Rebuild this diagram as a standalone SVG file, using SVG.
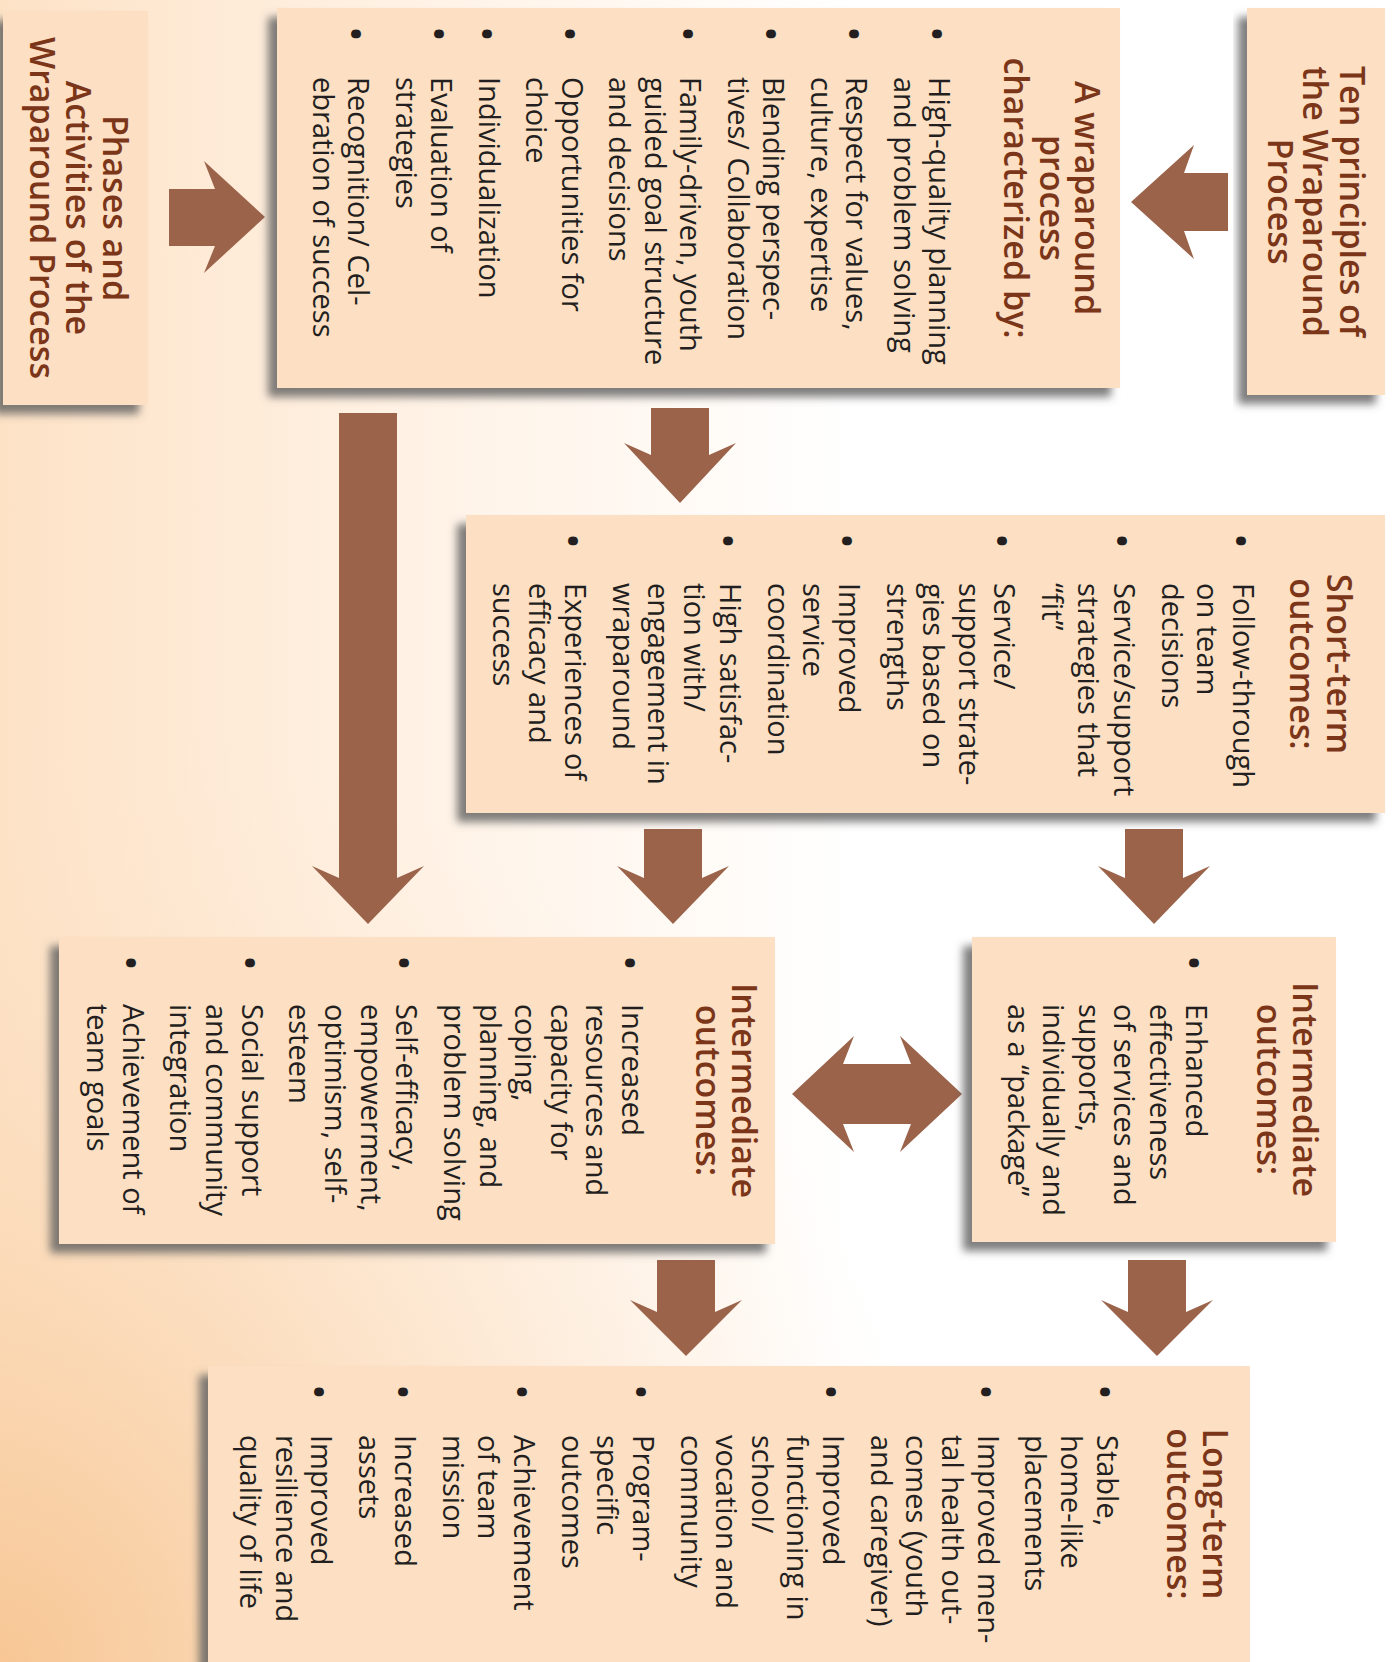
<svg xmlns="http://www.w3.org/2000/svg" width="1398" height="1662" viewBox="0 0 1398 1662">
<defs>
<linearGradient id="bg" gradientUnits="userSpaceOnUse" x1="0" y1="0" x2="850" y2="0">
<stop offset="0" stop-color="#fde2c6"/>
<stop offset="0.45" stop-color="#fff1e3"/>
<stop offset="1" stop-color="#ffffff"/>
</linearGradient>
<radialGradient id="bg2" gradientUnits="userSpaceOnUse" cx="0" cy="1662" r="950">
<stop offset="0" stop-color="#f7c592" stop-opacity="0.95"/>
<stop offset="0.5" stop-color="#fad7b2" stop-opacity="0.5"/>
<stop offset="1" stop-color="#fde6cf" stop-opacity="0"/>
</radialGradient>
<filter id="sh" x="-10%" y="-10%" width="125%" height="125%">
<feDropShadow dx="-9" dy="9" stdDeviation="4" flood-color="#5e5e5e" flood-opacity="0.8"/>
</filter>
<style>
.box{fill:#fde0c4;filter:url(#sh)}
.ttl{font-family:"Open Sans","Noto Sans","DejaVu Sans",sans-serif;font-weight:600;font-size:34px;fill:#7b3519;text-anchor:middle}
.bd{font-family:"Open Sans","Noto Sans","DejaVu Sans",sans-serif;font-size:29px;fill:#231f20}
.bl{font-size:42px}
.arr{fill:#9b634a}
</style>
</defs>
<rect x="0" y="0" width="1398" height="1662" fill="url(#bg)"/>
<rect x="0" y="0" width="1398" height="1662" fill="url(#bg2)"/>

<g id="connectors">
<path class="arr" d="M169,189 H215 L204,161 L265,217 L204,273 L215,246 H169 Z"/>
<path class="arr" d="M1228,173 H1184 L1194,145 L1131,202 L1194,259 L1184,231 H1228 Z"/>
<path class="arr" d="M651,408 H709 V455 L736,443 L680,503 L624,443 L651,455 Z"/>
<path class="arr" d="M339,413 H397 V878 L424,866 L368,924 L312,866 L339,878 Z"/>
<path class="arr" d="M644,829 H702 V878 L729,866 L673,924 L617,866 L644,878 Z"/>
<path class="arr" d="M1125,829 H1183 V878 L1210,866 L1154,924 L1098,866 L1125,878 Z"/>
<path class="arr" d="M792,1094 L854,1036 L843,1064 H911 L900,1036 L962,1094 L900,1152 L911,1124 H843 L854,1152 Z"/>
<path class="arr" d="M657,1260 H715 V1312 L742,1300 L686,1356 L630,1300 L657,1312 Z"/>
<path class="arr" d="M1128,1260 H1186 V1312 L1213,1300 L1157,1356 L1101,1300 L1128,1312 Z"/>
</g>

<g id="phases">
<rect class="box" x="3" y="11" width="145" height="394"/>
<g transform="translate(148,11) rotate(90)">
<text class="ttl" x="197" y="45">Phases and</text>
<text class="ttl" x="197" y="82">Activities of the</text>
<text class="ttl" x="197" y="118">Wraparound Process</text>
</g>
</g>

<g id="wraparound">
<rect class="box" x="277" y="8" width="843" height="380"/>
<g transform="translate(1120,8) rotate(90)">
<text class="ttl" x="190" y="45">A wraparound</text>
<text class="ttl" x="190" y="80.5">process</text>
<text class="ttl" x="190" y="116">characterized by:</text>
<g class="bd">
<text class="bl" x="18" y="198">•</text>
<text x="69" y="191">High-quality planning</text>
<text x="69" y="226.5">and problem solving</text>
<text class="bl" x="18" y="281">•</text>
<text x="69" y="274">Respect for values,</text>
<text x="69" y="309.5">culture, expertise</text>
<text class="bl" x="18" y="364">•</text>
<text x="69" y="357">Blending perspec-</text>
<text x="69" y="392.5">tives/ Collaboration</text>
<text class="bl" x="18" y="447">•</text>
<text x="69" y="440">Family-driven, youth</text>
<text x="69" y="475.5">guided goal structure</text>
<text x="69" y="511">and decisions</text>
<text class="bl" x="18" y="565.5">•</text>
<text x="69" y="558.5">Opportunities for</text>
<text x="69" y="594">choice</text>
<text class="bl" x="18" y="648.5">•</text>
<text x="69" y="641.5">Individualization</text>
<text class="bl" x="18" y="696">•</text>
<text x="69" y="689">Evaluation of</text>
<text x="69" y="724.5">strategies</text>
<text class="bl" x="18" y="779">•</text>
<text x="69" y="772">Recognition/ Cel-</text>
<text x="69" y="807.5">ebration of success</text>
</g>
</g>
</g>

<g id="principles">
<rect class="box" x="1247" y="8" width="138" height="387"/>
<g transform="translate(1385,8) rotate(90)">
<text class="ttl" x="193.5" y="45">Ten principles of</text>
<text class="ttl" x="193.5" y="82">the Wraparound</text>
<text class="ttl" x="193.5" y="117">Process</text>
</g>
</g>

<g id="short-term">
<rect class="box" x="466" y="515" width="919" height="298"/>
<g transform="translate(1385,515) rotate(90)">
<text class="ttl" x="149" y="58">Short-term</text>
<text class="ttl" x="149" y="95">outcomes:</text>
<g class="bd">
<text class="bl" x="18" y="159">•</text>
<text x="68" y="152">Follow-through</text>
<text x="68" y="187.7">on team</text>
<text x="68" y="223.4">decisions</text>
<text class="bl" x="18" y="278.4">•</text>
<text x="68" y="271.4">Service/support</text>
<text x="68" y="307.1">strategies that</text>
<text x="68" y="342.8">“fit”</text>
<text class="bl" x="18" y="397.8">•</text>
<text x="68" y="390.8">Service/</text>
<text x="68" y="426.5">support strate-</text>
<text x="68" y="462.2">gies based on</text>
<text x="68" y="497.9">strengths</text>
<text class="bl" x="18" y="552.9">•</text>
<text x="68" y="545.9">Improved</text>
<text x="68" y="581.6">service</text>
<text x="68" y="617.3">coordination</text>
<text class="bl" x="18" y="672.3">•</text>
<text x="68" y="665.3">High satisfac-</text>
<text x="68" y="701">tion with/</text>
<text x="68" y="736.7">engagement in</text>
<text x="68" y="772.4">wraparound</text>
<text class="bl" x="18" y="827.4">•</text>
<text x="68" y="820.4">Experiences of</text>
<text x="68" y="856.1">efficacy and</text>
<text x="68" y="891.8">success</text>
</g>
</g>
</g>

<g id="intermediate-left">
<rect class="box" x="59" y="937" width="716" height="307"/>
<g transform="translate(775,937) rotate(90)">
<text class="ttl" x="153.5" y="43">Intermediate</text>
<text class="ttl" x="153.5" y="79">outcomes:</text>
<g class="bd">
<text class="bl" x="18" y="160">•</text>
<text x="67" y="153">Increased</text>
<text x="67" y="188.6">resources and</text>
<text x="67" y="224.2">capacity for</text>
<text x="67" y="259.8">coping,</text>
<text x="67" y="295.4">planning, and</text>
<text x="67" y="331">problem solving</text>
<text class="bl" x="18" y="385.8">•</text>
<text x="67" y="378.8">Self-efficacy,</text>
<text x="67" y="414.4">empowerment,</text>
<text x="67" y="450">optimism, self-</text>
<text x="67" y="485.6">esteem</text>
<text class="bl" x="18" y="540.4">•</text>
<text x="67" y="533.4">Social support</text>
<text x="67" y="569">and community</text>
<text x="67" y="604.6">integration</text>
<text class="bl" x="18" y="659.4">•</text>
<text x="67" y="652.4">Achievement of</text>
<text x="67" y="688">team goals</text>
</g>
</g>
</g>

<g id="intermediate-right">
<rect class="box" x="972" y="937" width="364" height="305"/>
<g transform="translate(1336,937) rotate(90)">
<text class="ttl" x="152.5" y="43">Intermediate</text>
<text class="ttl" x="152.5" y="79">outcomes:</text>
<g class="bd">
<text class="bl" x="18" y="157.5">•</text>
<text x="67" y="150.5">Enhanced</text>
<text x="67" y="186.1">effectiveness</text>
<text x="67" y="221.7">of services and</text>
<text x="67" y="257.3">supports,</text>
<text x="67" y="292.9">individually and</text>
<text x="67" y="328.5">as a “package”</text>
</g>
</g>
</g>

<g id="long-term">
<rect class="box" x="208" y="1366" width="1042" height="296"/>
<g transform="translate(1250,1366) rotate(90)">
<text class="ttl" x="148" y="47">Long-term</text>
<text class="ttl" x="148" y="83">outcomes:</text>
<g class="bd">
<text class="bl" x="18" y="160.5">•</text>
<text x="69" y="153.5">Stable,</text>
<text x="69" y="189.1">home-like</text>
<text x="69" y="224.7">placements</text>
<text class="bl" x="18" y="279.5">•</text>
<text x="69" y="272.5">Improved men-</text>
<text x="69" y="308.1">tal health out-</text>
<text x="69" y="343.7">comes (youth</text>
<text x="69" y="379.3">and caregiver)</text>
<text class="bl" x="18" y="434.1">•</text>
<text x="69" y="427.1">Improved</text>
<text x="69" y="462.7">functioning in</text>
<text x="69" y="498.3">school/</text>
<text x="69" y="533.9">vocation and</text>
<text x="69" y="569.5">community</text>
<text class="bl" x="18" y="624.3">•</text>
<text x="69" y="617.3">Program-</text>
<text x="69" y="652.9">specific</text>
<text x="69" y="688.5">outcomes</text>
<text class="bl" x="18" y="743.3">•</text>
<text x="69" y="736.3">Achievement</text>
<text x="69" y="771.9">of team</text>
<text x="69" y="807.5">mission</text>
<text class="bl" x="18" y="862.3">•</text>
<text x="69" y="855.3">Increased</text>
<text x="69" y="890.9">assets</text>
<text class="bl" x="18" y="945.7">•</text>
<text x="69" y="938.7">Improved</text>
<text x="69" y="974.3">resilience and</text>
<text x="69" y="1009.9">quality of life</text>
</g>
</g>
</g>
</svg>
